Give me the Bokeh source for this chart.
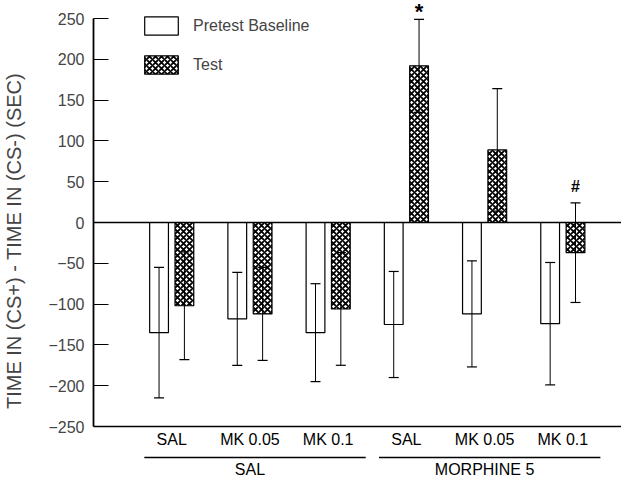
from bokeh.plotting import figure
from bokeh.models import (ColumnDataSource, Range1d, LinearAxis, FixedTicker, Span,
                          Legend, LegendItem, LabelSet)
from bokeh.core.properties import value
from bokeh.embed import file_html
from bokeh.resources import INLINE

# ---- data ----
categories = ["SAL", "MK 0.05", "MK 0.1", "SAL", "MK 0.05", "MK 0.1"]
groups = ["SAL", "MORPHINE 5"]
pretest_mean = [-135, -118, -135, -125, -112, -124]
pretest_sem = [80, 57, 60, 65, 65, 75]
test_mean = [-102, -112, -106, 192, 89, -37]
test_sem = [66, 57, 69, 57, 75, 61]
star_marks = ["", "", "", "*", "", ""]
hash_marks = ["", "", "", "", "", "#"]
y_ticks = [-250, -200, -150, -100, -50, 0, 50, 100, 150, 200, 250]

FONT = "Liberation Sans"
pos = list(range(1, len(categories) + 1))
group_pos = [2, 5]
off = 0.162
bw = 0.24

p = figure(width=621, height=481, output_backend="svg", toolbar_location=None,
           x_axis_type=None, y_axis_type=None,
           x_range=Range1d(0, 6.75), y_range=Range1d(-317.4, 272.06),
           min_border_left=89, min_border_right=0, min_border_top=0, min_border_bottom=0)
p.outline_line_color = None
p.xgrid.visible = False
p.ygrid.visible = False
p.background_fill_color = "white"
p.border_fill_color = "white"

yaxis = LinearAxis(ticker=FixedTicker(ticks=y_ticks), bounds=(-250, 250))
yaxis.axis_label = "TIME IN (CS+) - TIME IN (CS-) (SEC)"
yaxis.axis_label_text_font = FONT
yaxis.axis_label_text_font_size = "20px"
yaxis.axis_label_text_font_style = "normal"
yaxis.axis_label_standoff = 20
yaxis.major_label_text_font = FONT
yaxis.major_label_text_font_size = "16px"
yaxis.major_label_standoff = 9
yaxis.major_tick_in = 15
yaxis.major_tick_out = 0
yaxis.minor_tick_line_color = None
yaxis.axis_line_width = 1.8
yaxis.major_tick_line_width = 1.2
p.add_layout(yaxis, "left")

# zero line and bottom axis line
p.add_layout(Span(location=0, dimension="width", line_color="black", line_width=1.5))
p.add_layout(Span(location=-250, dimension="width", line_color="black", line_width=1.5))

pre_src = ColumnDataSource(dict(
    x=[c - off for c in pos], top=pretest_mean,
    lo=[m - s for m, s in zip(pretest_mean, pretest_sem)],
    hi=[m + s for m, s in zip(pretest_mean, pretest_sem)]))
test_src = ColumnDataSource(dict(
    x=[c + off for c in pos], top=test_mean,
    lo=[m - s for m, s in zip(test_mean, test_sem)],
    hi=[m + s for m, s in zip(test_mean, test_sem)],
    star=star_marks, hash=hash_marks))

r_pre = p.vbar(x="x", top="top", bottom=0, width=bw, source=pre_src,
               fill_color="white", line_color="black", line_width=1.2)
r_test = p.vbar(x="x", top="top", bottom=0, width=bw, source=test_src,
                fill_color="white", line_color="black", line_width=1.2,
                hatch_pattern="x", hatch_color="black", hatch_scale=6, hatch_weight=1.8)

for src in (pre_src, test_src):
    p.segment(x0="x", y0="lo", x1="x", y1="hi", source=src, line_color="black", line_width=1)
    p.scatter(x="x", y="lo", marker="dash", size=10, source=src, line_color="black", line_width=1.2)
    p.scatter(x="x", y="hi", marker="dash", size=10, source=src, line_color="black", line_width=1.2)

p.add_layout(LabelSet(x="x", y="hi", text="star", source=test_src, text_font=value(FONT),
                      text_font_size="22px", text_font_style="bold", text_align="center",
                      text_baseline="alphabetic", y_offset=0, text_color="black"))
p.add_layout(LabelSet(x="x", y="hi", text="hash", source=test_src, text_font=value(FONT),
                      text_font_size="16px", text_font_style="bold", text_align="center",
                      text_baseline="alphabetic", y_offset=11, text_color="black"))

# category labels
cat_src = ColumnDataSource(dict(x=pos, y=[-266] * len(pos), t=categories))
p.add_layout(LabelSet(x="x", y="y", text="t", source=cat_src, text_font=value(FONT),
                      text_font_size="16px", text_align="center", text_baseline="middle",
                      text_color="black"))
# group lines and labels
p.segment(x0=[g - 1.35 for g in group_pos], x1=[g + 1.48 for g in group_pos],
          y0=[-288] * 2, y1=[-288] * 2, line_color="black", line_width=1.5)
grp_src = ColumnDataSource(dict(x=group_pos, y=[-310] * 2, t=groups))
p.add_layout(LabelSet(x="x", y="y", text="t", source=grp_src, text_font=value(FONT),
                      text_font_size="16px", text_align="center", text_baseline="alphabetic",
                      text_color="black"))

legend = Legend(items=[LegendItem(label="Pretest Baseline", renderers=[r_pre]),
                       LegendItem(label="Test", renderers=[r_test])],
                location=(47, 405), margin=0, padding=0, spacing=16,
                glyph_width=42, glyph_height=23, label_standoff=11,
                label_text_font=FONT, label_text_font_size="16px",
                border_line_color=None, background_fill_alpha=0)
p.add_layout(legend, "center")

open("out.html", "w").write(file_html(p, INLINE))
